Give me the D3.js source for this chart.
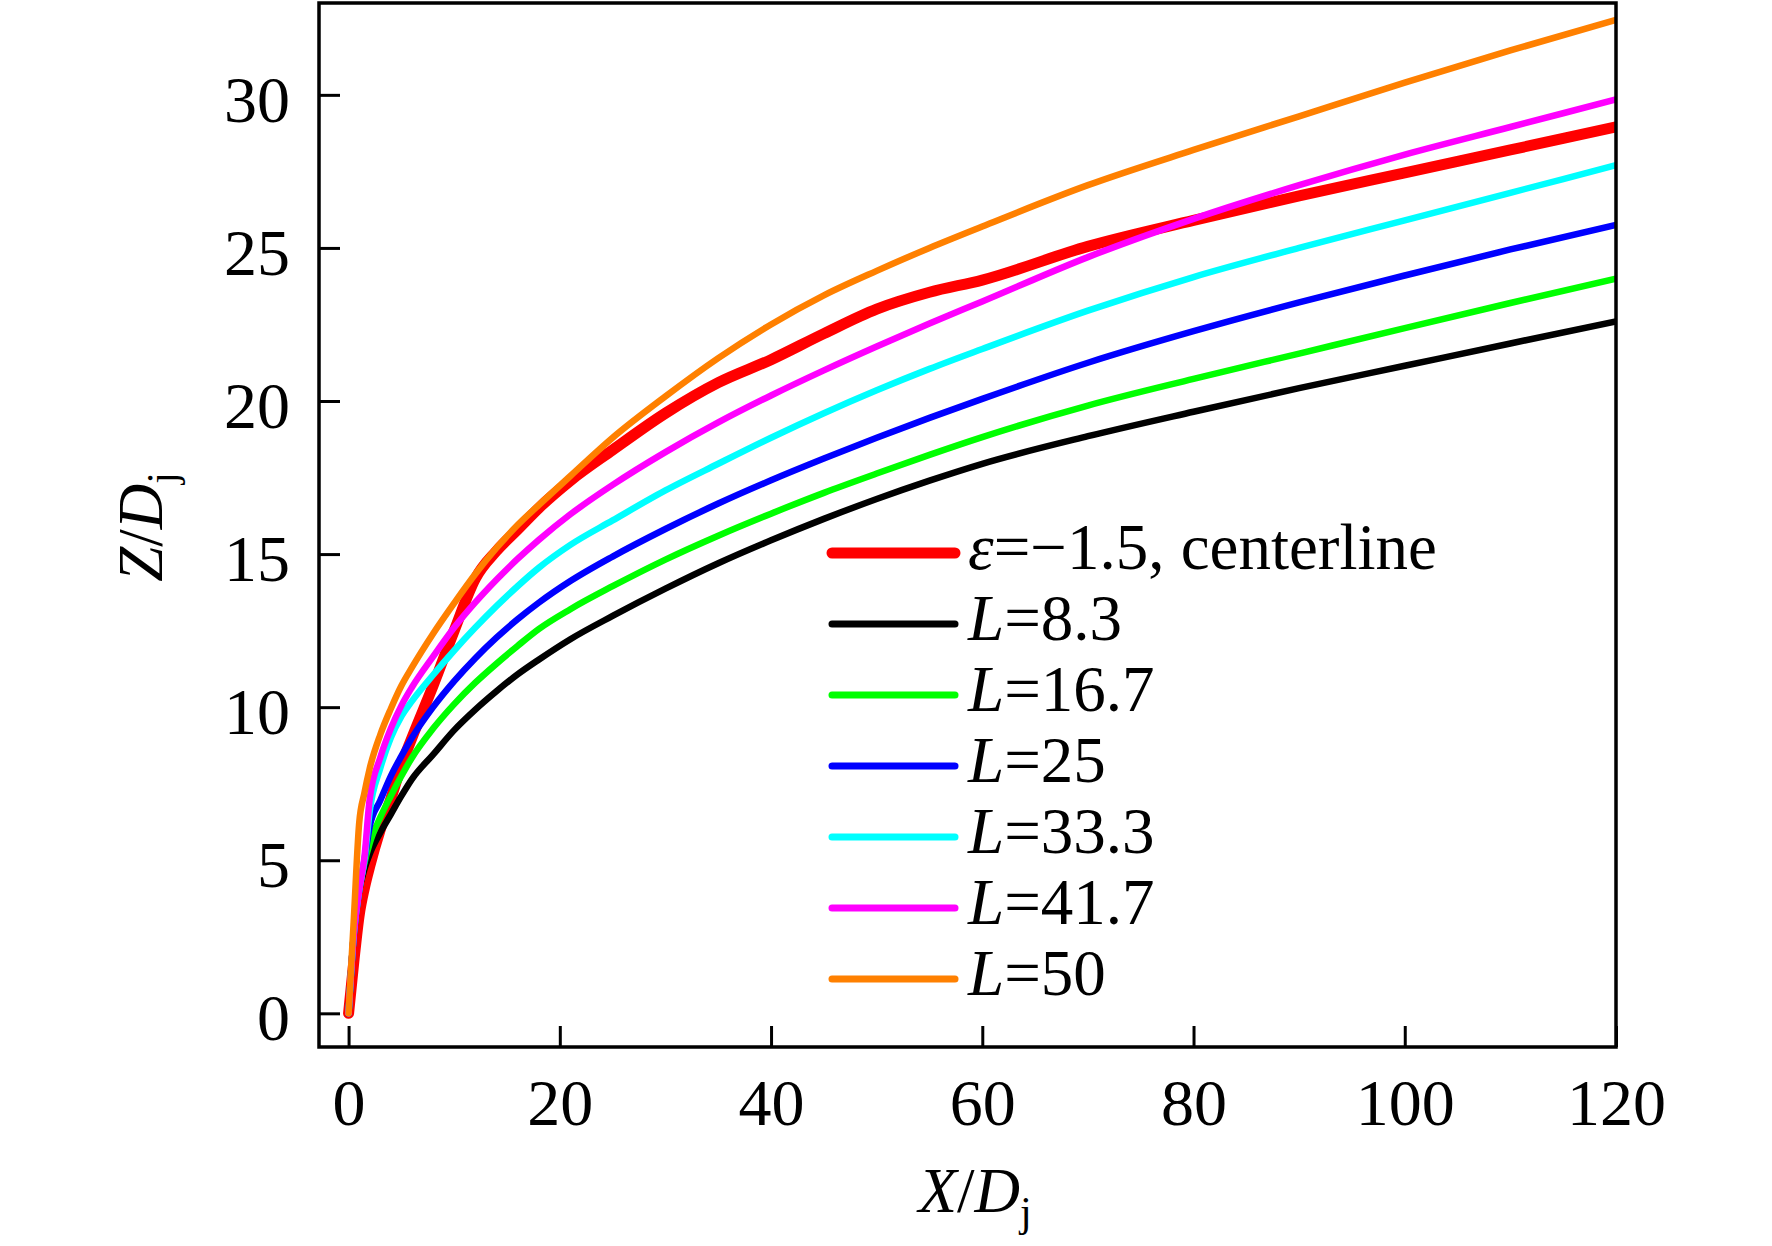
<!DOCTYPE html>
<html>
<head>
<meta charset="utf-8">
<script src="https://cdn.jsdelivr.net/npm/d3@7"></script>
<style>
  body { margin: 0; background: #fff; }
  text { font-family: "Liberation Serif", "Times New Roman", serif; fill: #000; }
</style>
</head>
<body>
<svg id="chart" width="1772" height="1246"></svg>
<script>
// ---------------- data ----------------
const xValues = [0, 0.5, 1, 1.5, 2, 3, 4, 5, 6, 8, 10, 12, 14, 16, 18, 21, 25, 30, 35, 40, 45, 50, 55, 60, 70, 80, 90, 100, 110, 120];

const centerline = [0, 1.7, 3.2, 4.1, 4.8, 6.0, 7.0, 8.1, 9.0, 10.7, 12.5, 14.2, 15.1, 15.8, 16.5, 17.4, 18.4, 19.6, 20.6, 21.35, 22.2, 23.0, 23.55, 23.95, 25.05, 25.9, 26.7, 27.45, 28.2, 28.95];
const L8_3  = [0, 2.6, 4.0, 4.7, 5.2, 5.9, 6.5, 7.1, 7.65, 8.45, 9.25, 9.92, 10.52, 11.07, 11.55, 12.22, 12.98, 13.87, 14.7, 15.45, 16.15, 16.8, 17.4, 17.95, 18.85, 19.65, 20.42, 21.15, 21.88, 22.6];
const L16_7 = [0, 2.6, 4.0, 4.9, 5.55, 6.4, 7.1, 7.75, 8.35, 9.3, 10.1, 10.8, 11.42, 12.0, 12.55, 13.2, 13.95, 14.82, 15.6, 16.32, 17.0, 17.63, 18.24, 18.82, 19.85, 20.72, 21.55, 22.38, 23.2, 24.0];
const L25   = [0, 2.6, 4.0, 5.0, 6.1, 6.95, 7.75, 8.4, 9.0, 10.0, 10.85, 11.6, 12.27, 12.87, 13.41, 14.12, 14.92, 15.82, 16.65, 17.41, 18.12, 18.8, 19.45, 20.07, 21.25, 22.28, 23.22, 24.1, 24.95, 25.75];
const L33_3 = [0, 2.6, 4.0, 5.0, 6.6, 8.0, 9.0, 9.7, 10.2, 11.05, 11.85, 12.6, 13.3, 13.95, 14.55, 15.3, 16.1, 17.08, 17.95, 18.8, 19.6, 20.35, 21.05, 21.7, 22.95, 24.05, 25.0, 25.9, 26.8, 27.7];
const L41_7 = [0, 2.6, 4.0, 5.1, 7.0, 8.35, 9.3, 10.05, 10.65, 11.65, 12.6, 13.42, 14.16, 14.84, 15.46, 16.3, 17.26, 18.33, 19.3, 20.18, 21.0, 21.78, 22.53, 23.25, 24.7, 25.95, 27.05, 28.05, 28.95, 29.85];
const L50   = [0, 3.1, 6.2, 7.2, 8.0, 9.1, 9.95, 10.7, 11.3, 12.4, 13.4, 14.35, 15.2, 15.95, 16.6, 17.55, 18.8, 20.15, 21.4, 22.5, 23.45, 24.25, 25.0, 25.7, 27.05, 28.2, 29.3, 30.4, 31.45, 32.45];

const seriesNames  = ["centerline", "L=8.3", "L=16.7", "L=25", "L=33.3", "L=41.7", "L=50"];
const seriesValues = [centerline, L8_3, L16_7, L25, L33_3, L41_7, L50];
const seriesColors = ["#ff0000", "#000000", "#00ff00", "#0000ff", "#00ffff", "#ff00ff", "#ff8000"];
const legendNumbers = [null, "8.3", "16.7", "25", "33.3", "41.7", "50"];

const xTicks = [0, 20, 40, 60, 80, 100, 120];
const yTicks = [0, 5, 10, 15, 20, 25, 30];

// ---------------- layout ----------------
const svg = d3.select("#chart");
const pL = 319, pR = 1616, pT = 3, pB = 1047;

const x = d3.scaleLinear().domain([-2.8, 120]).range([pL, pR]);
const y = d3.scaleLinear().domain([-1.1, 33]).range([pB, pT]);

svg.append("rect").attr("width", 1772).attr("height", 1246).attr("fill", "#fff");

svg.append("defs").append("clipPath").attr("id", "plot")
  .append("rect").attr("x", pL).attr("y", pT).attr("width", pR - pL).attr("height", pB - pT);

// axes
const xAxis = d3.axisBottom(x).tickValues(xTicks).tickSize(-21).tickPadding(31).tickFormat(d3.format("d"));
const gx = svg.append("g").attr("transform", `translate(0,${pB})`).call(xAxis);
gx.select(".domain").remove();
gx.selectAll(".tick line").attr("stroke", "#000").attr("stroke-width", 3);
gx.selectAll(".tick text").attr("font-size", 66).attr("font-family", "Liberation Serif").attr("fill", "#000");

const yAxis = d3.axisLeft(y).tickValues(yTicks).tickSize(-21).tickPadding(29).tickFormat(d3.format("d"));
const gy = svg.append("g").attr("transform", `translate(${pL},0)`).call(yAxis);
gy.select(".domain").remove();
gy.selectAll(".tick line").attr("stroke", "#000").attr("stroke-width", 3);
gy.selectAll(".tick text").attr("font-size", 66).attr("font-family", "Liberation Serif").attr("fill", "#000").attr("dy", "0.4em");

// lines
const line = d3.line().x((d, i) => x(xValues[i])).y(d => y(d)).curve(d3.curveMonotoneX);
const gl = svg.append("g").attr("clip-path", "url(#plot)");
seriesValues.forEach((vals, k) => {
  gl.append("path")
    .datum(vals)
    .attr("d", line)
    .attr("fill", "none")
    .attr("stroke", seriesColors[k])
    .attr("stroke-width", k === 0 ? 11 : 6.5)
    .attr("stroke-linecap", "round")
    .attr("stroke-linejoin", "round");
});

// frame
svg.append("rect").attr("x", pL).attr("y", pT).attr("width", pR - pL).attr("height", pB - pT)
  .attr("fill", "none").attr("stroke", "#000").attr("stroke-width", 3.5);

// legend
const legY0 = 553, legDy = 71, legX1 = 832, legX2 = 955, legTx = 968;
seriesNames.forEach((name, k) => {
  const yy = legY0 + k * legDy;
  svg.append("line").attr("x1", legX1).attr("x2", legX2).attr("y1", yy).attr("y2", yy)
    .attr("stroke", seriesColors[k]).attr("stroke-width", k === 0 ? 11 : 7).attr("stroke-linecap", "round");
  const t = svg.append("text").attr("x", legTx).attr("y", yy + 16).attr("font-size", 65);
  if (k === 0) {
    t.append("tspan").attr("font-style", "italic").text("ε");
    t.append("tspan").text("=−1.5, centerline");
  } else {
    t.append("tspan").attr("font-style", "italic").text("L");
    t.append("tspan").text("=" + legendNumbers[k]);
  }
});

// axis titles
const xt = svg.append("text").attr("x", 975).attr("y", 1212).attr("text-anchor", "middle").attr("font-size", 63);
xt.append("tspan").attr("font-style", "italic").text("X");
xt.append("tspan").text("/");
xt.append("tspan").attr("font-style", "italic").text("D");
xt.append("tspan").attr("font-size", 42).attr("dy", 14).text("j");

const yt = svg.append("text").attr("transform", "translate(162,527) rotate(-90)").attr("text-anchor", "middle").attr("font-size", 63);
yt.append("tspan").attr("font-style", "italic").text("Z");
yt.append("tspan").text("/");
yt.append("tspan").attr("font-style", "italic").text("D");
yt.append("tspan").attr("font-size", 42).attr("dy", 14).text("j");
</script>
</body>
</html>
